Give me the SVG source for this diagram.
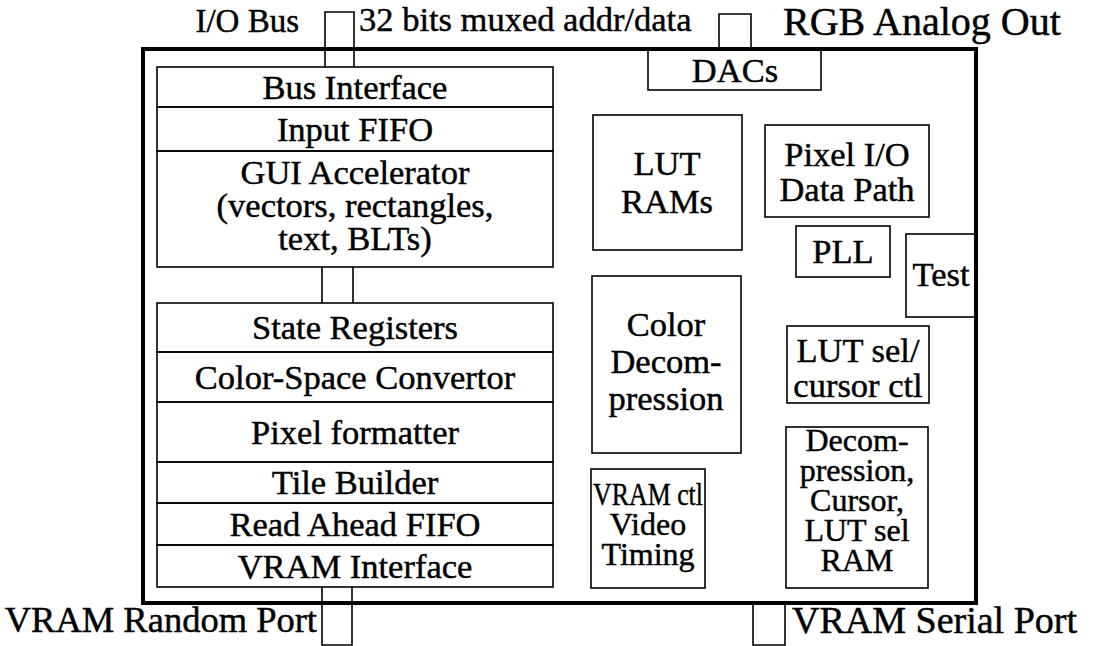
<svg xmlns="http://www.w3.org/2000/svg" width="1104" height="646" viewBox="0 0 1104 646">
<style>
.bx{fill:none;stroke:#000;stroke-width:1.6}
.ln{fill:none;stroke:#000;stroke-width:1.6}
.outer{fill:none;stroke:#000;stroke-width:4}
text{font-family:"Liberation Serif","Times New Roman",serif;font-size:34.5px;fill:#000;stroke:#000;stroke-width:0.45}
.c{text-anchor:middle}
.s{font-size:32px}
</style>
<rect width="1104" height="646" fill="#fff"/>
<rect id="chip" class="outer" x="143" y="49" width="833" height="554"/>
<g id="connectors">
<path class="ln" d="M325,67 V12 H354 V67"/>
<path class="ln" d="M322,267 V303 M353,267 V303"/>
<path class="ln" d="M322,587 V645 H352 V587"/>
<path class="ln" d="M719,49 V14 H751 V49"/>
<path class="ln" d="M753,603 V645 H785 V603"/>
</g>
<g id="labels">
<text x="299" y="32" text-anchor="end" style="font-size:33px">I/O Bus</text>
<text x="359" y="31" style="font-size:34.5px">32 bits muxed addr/data</text>
<text x="783" y="35" style="font-size:40px">RGB Analog Out</text>
<text x="317" y="632" text-anchor="end" style="font-size:36.5px">VRAM Random Port</text>
<text x="792" y="633" style="font-size:38px">VRAM Serial Port</text>
</g>
<g id="bus-interface"><rect class="bx" x="157" y="67" width="396" height="40"/><text class="c" x="355" y="99">Bus Interface</text></g>
<g id="input-fifo"><rect class="bx" x="157" y="107" width="396" height="44"/><text class="c" x="355" y="141">Input FIFO</text></g>
<g id="gui-accelerator"><rect class="bx" x="157" y="151" width="396" height="116"/><text class="c" x="355" y="184">GUI Accelerator</text><text class="c" x="355" y="217">(vectors, rectangles,</text><text class="c" x="355" y="250">text, BLTs)</text></g>
<g id="state-registers"><rect class="bx" x="157" y="303" width="396" height="49"/><text class="c" x="355" y="339">State Registers</text></g>
<g id="color-space"><rect class="bx" x="157" y="352" width="396" height="50"/><text class="c" x="355" y="389">Color-Space Convertor</text></g>
<g id="pixel-formatter"><rect class="bx" x="157" y="402" width="396" height="60"/><text class="c" x="355" y="444">Pixel formatter</text></g>
<g id="tile-builder"><rect class="bx" x="157" y="462" width="396" height="41"/><text class="c" x="355" y="494">Tile Builder</text></g>
<g id="read-ahead"><rect class="bx" x="157" y="503" width="396" height="42"/><text class="c" x="355" y="536">Read Ahead FIFO</text></g>
<g id="vram-interface"><rect class="bx" x="157" y="545" width="396" height="42"/><text class="c" x="355" y="578">VRAM Interface</text></g>
<g id="dacs"><rect class="bx" x="648" y="49" width="173" height="41"/><text class="c" x="735" y="82">DACs</text></g>
<g id="lut-rams"><rect class="bx" x="593" y="115" width="149" height="135"/><text class="c" x="667" y="175">LUT</text><text class="c" x="667" y="213">RAMs</text></g>
<g id="pixel-io"><rect class="bx" x="765" y="125" width="164" height="92"/><text class="c" x="847" y="166">Pixel I/O</text><text class="c" x="847" y="201">Data Path</text></g>
<g id="pll"><rect class="bx" x="796" y="226" width="94" height="51"/><text class="c" x="843" y="263">PLL</text></g>
<g id="test"><rect class="bx" x="906" y="234" width="70" height="83"/><text class="c" x="941" y="286">Test</text></g>
<g id="color-decompression"><rect class="bx" x="592" y="276" width="149" height="177"/><text class="c" x="666" y="336">Color</text><text class="c" x="666" y="373">Decom-</text><text class="c" x="666" y="410">pression</text></g>
<g id="lut-sel"><rect class="bx" x="787" y="326" width="142" height="77"/><text class="c" x="858" y="362">LUT sel/</text><text class="c" x="858" y="397">cursor ctl</text></g>
<g id="vram-ctl"><rect class="bx" x="591" y="469" width="114" height="119"/><text class="c s" x="648" y="505" textLength="110" lengthAdjust="spacingAndGlyphs">VRAM ctl</text><text class="c s" x="648" y="535">Video</text><text class="c s" x="648" y="565">Timing</text></g>
<g id="decompression-ram"><rect class="bx" x="786" y="427" width="142" height="161"/><text class="c s" x="857" y="451">Decom-</text><text class="c s" x="857" y="481">pression,</text><text class="c s" x="857" y="511">Cursor,</text><text class="c s" x="857" y="541">LUT sel</text><text class="c s" x="857" y="571">RAM</text></g>
</svg>
